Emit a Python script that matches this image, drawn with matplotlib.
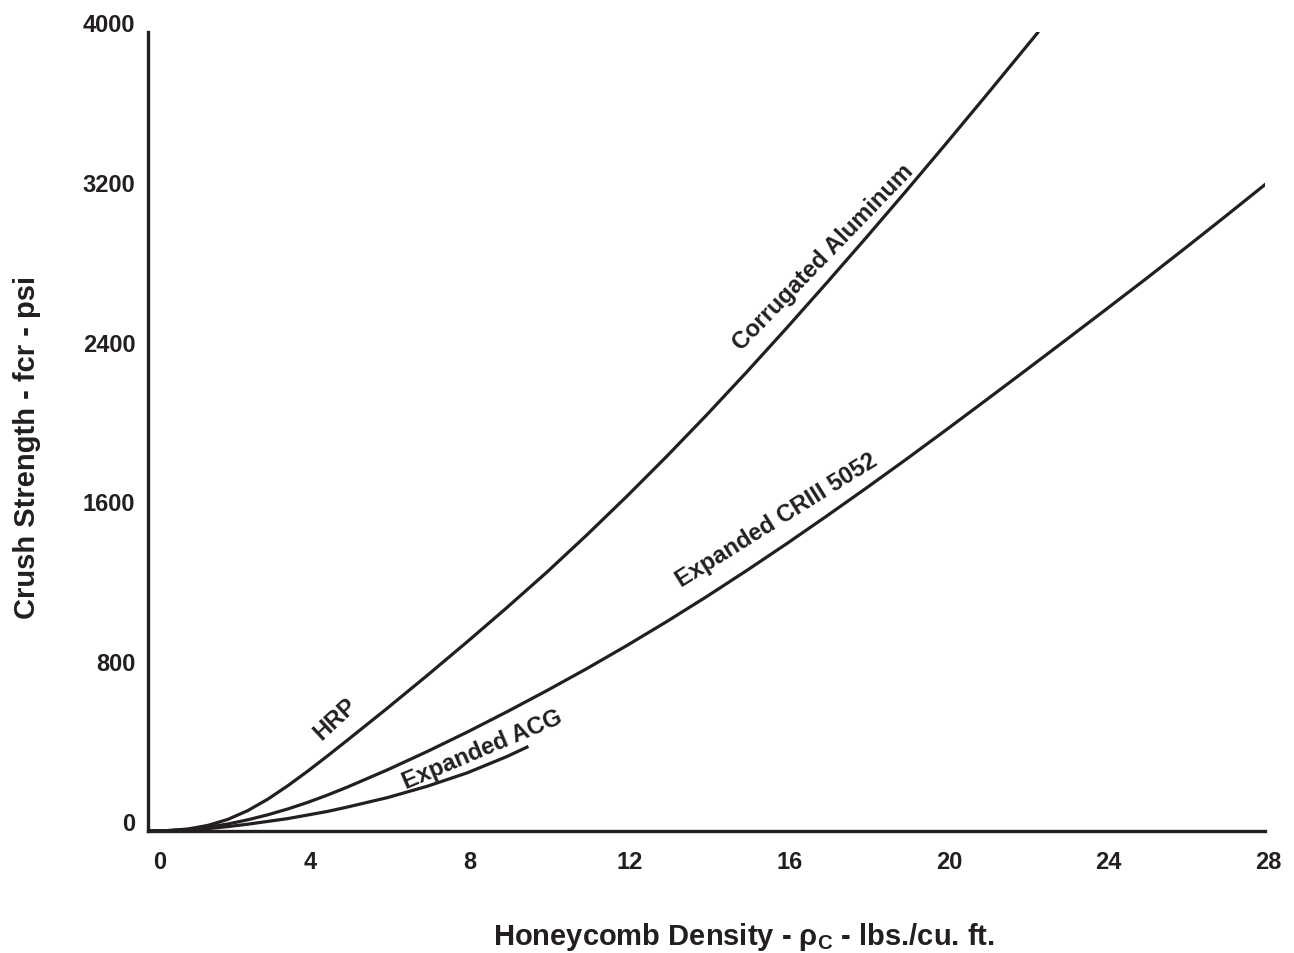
import matplotlib.pyplot as plt
from matplotlib.transforms import ScaledTranslation

# Data (density in lbs/cu.ft, crush strength in psi)
corr_x = [0, 0.5, 1, 1.5, 2, 2.5, 3, 3.5, 4, 4.5, 5, 6, 7, 8, 9, 10, 11, 12, 13, 14, 15,
          16, 17, 18, 19, 20, 21, 22, 22.3]
corr_y = [0, 2, 10, 28, 58, 102, 159, 226, 299, 376, 455, 615, 779, 947, 1119, 1296, 1482,
          1675, 1875, 2082, 2296, 2516, 2741, 2970, 3203, 3440, 3680, 3923, 3996]

criii_x = [0, 0.5, 1, 1.5, 2, 2.5, 3, 3.5, 4, 4.5, 5, 6, 7, 8, 9, 10, 11, 12, 13, 14,
           15, 16, 17, 18, 19, 20, 21, 22, 23, 24, 25, 26, 27, 28]
criii_y = [0, 2, 8, 19, 35, 56, 81, 110, 143, 180, 220, 306, 398, 495, 597, 703, 813, 928,
           1048, 1173, 1303, 1437, 1575, 1716, 1860, 2007, 2156, 2306, 2457, 2609, 2762,
           2918, 3076, 3236]

acg_x = [0, 0.5, 1, 1.5, 2, 2.5, 3, 3.5, 4, 4.5, 5, 6, 7, 8, 9, 9.5]
acg_y = [0, 1, 5, 12, 22, 34, 48, 62, 80, 98, 120, 167, 224, 291, 373, 420]

x_ticks = [0, 4, 8, 12, 16, 20, 24, 28]
y_ticks = [0, 800, 1600, 2400, 3200, 4000]

ink = '#231f20'
plt.rcParams['font.family'] = ['Liberation Sans', 'DejaVu Sans']
plt.rcParams['font.weight'] = 'bold'
plt.rcParams['mathtext.default'] = 'regular'

fig = plt.figure(figsize=(12.94, 9.54), dpi=100)
ax = fig.add_axes([148/1294, 1 - 832/954, (1265-148)/1294, (832-33)/954])

for xs, ys in [(corr_x, corr_y), (criii_x, criii_y), (acg_x, acg_y)]:
    ax.plot(xs, ys, color=ink, lw=2.3, solid_joinstyle='round')

ax.set_xlim(0, 28)
ax.set_ylim(0, 4000)
ax.spines['top'].set_visible(False)
ax.spines['right'].set_visible(False)
for s in ['left', 'bottom']:
    ax.spines[s].set_linewidth(2.4)
    ax.spines[s].set_color(ink)

ax.set_xticks(x_ticks)
ax.set_yticks(y_ticks)
ax.set_xticklabels([str(v) for v in x_ticks], fontsize=17, fontweight='bold', color=ink)
ax.set_yticklabels([str(v) for v in y_ticks], fontsize=17, fontweight='bold', color=ink)
ax.tick_params(axis='x', length=0, pad=14)
ax.tick_params(axis='y', length=0, pad=9)

# y labels sit a little above their values in the original
for lab in ax.get_yticklabels():
    lab.set_transform(lab.get_transform() + ScaledTranslation(0, 10/100, fig.dpi_scale_trans))
for i, lab in enumerate(ax.get_xticklabels()):
    dx = 12 if i == 0 else 3
    lab.set_transform(lab.get_transform() + ScaledTranslation(dx/100, 0, fig.dpi_scale_trans))

fig.text(27/1294, 1 - 447/954, 'Crush Strength - fcr - psi', rotation=90, fontsize=21,
         fontweight='bold', color=ink, ha='center', va='center')
fig.text(744/1294, 1 - 937/954, 'Honeycomb Density - ρ$_{C}$ - lbs./cu. ft.', fontsize=21,
         fontweight='bold', color=ink, ha='center', va='center')

lab_kw = dict(fontsize=17, fontweight='bold', color=ink, ha='center', va='baseline',
              rotation_mode='anchor')
ax.text(4.8, 541, 'HRP', rotation=43, **lab_kw)
ax.text(8.45, 380, 'Expanded ACG', rotation=23, **lab_kw)
ax.text(15.85, 1532, 'Expanded CRIII 5052', rotation=32, **lab_kw)
ax.text(17.05, 2853, 'Corrugated Aluminum', rotation=46, **lab_kw)

fig.savefig('out.png', dpi=100)
